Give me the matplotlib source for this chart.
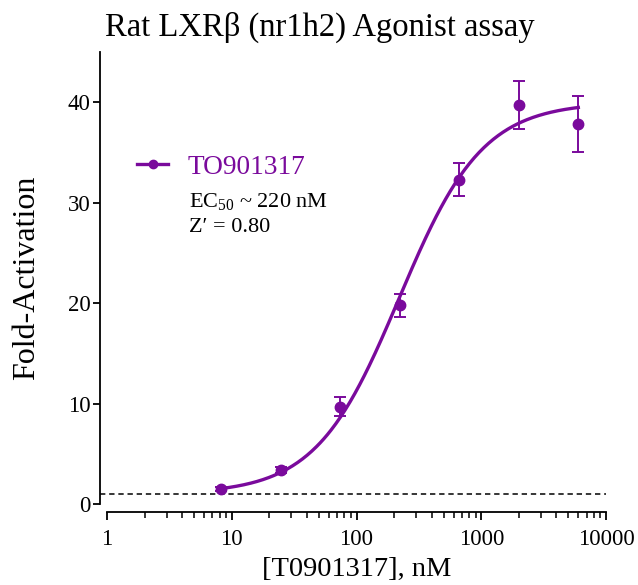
import matplotlib
matplotlib.use("Agg")
import matplotlib.pyplot as plt
import numpy as np
from matplotlib.ticker import LogLocator, NullFormatter, FixedLocator

plt.rcParams['font.family'] = ['Liberation Serif', 'DejaVu Serif']
plt.rcParams['mathtext.fontset'] = 'custom'
plt.rcParams['mathtext.rm'] = 'Liberation Serif'
plt.rcParams['mathtext.it'] = 'Liberation Serif:italic'

# data
conc_nM = [8.2, 24.7, 74, 222, 667, 2000, 6000]
fold = [1.5, 3.35, 9.7, 19.8, 32.3, 39.7, 37.8]
err = [0.2, 0.3, 0.95, 1.15, 1.6, 2.4, 2.8]

# 4PL fit parameters
fit_bottom = 1.0
fit_top = 40.0
fit_ec50 = 220.0
fit_hill = 1.3

purple = '#7a0a9c'

fig = plt.figure(figsize=(6.38, 5.85), dpi=100)
ax = fig.add_axes([107 / 638, 81 / 585, 499 / 638, 452 / 585])

xs = np.logspace(np.log10(conc_nM[0]), np.log10(conc_nM[-1]), 300)
ys = fit_bottom + (fit_top - fit_bottom) / (1 + (fit_ec50 / xs) ** fit_hill)
ax.plot(xs, ys, color=purple, lw=2.4, zorder=3)
ax.errorbar(conc_nM, fold, yerr=err, fmt='o', color=purple, ms=7.5,
            elinewidth=1.4, capsize=4.5, capthick=1.4, zorder=4)
ax.plot([], [], '-o', color=purple, lw=2.4, ms=6, label='TO901317')

# baseline (fold = 1), runs from the y spine to the right end
ax.axhline(1, xmin=-7 / 499, xmax=1, color='black', lw=1.1, ls=(0, (3.5, 2.5)),
           zorder=2, clip_on=False)

ax.set_xscale('log')
ax.set_xlim(1, 10000)
ax.set_ylim(0, 45)
ax.xaxis.set_major_locator(FixedLocator([1, 10, 100, 1000, 10000]))
ax.set_xticklabels(['1', '10', '100', '1000', '10000'])
ax.xaxis.set_minor_locator(LogLocator(base=10, subs=np.arange(2, 10)))
ax.xaxis.set_minor_formatter(NullFormatter())
ax.set_yticks([0, 10, 20, 30, 40])

for s in ['top', 'right']:
    ax.spines[s].set_visible(False)
ax.spines['left'].set_position(('outward', 5))
ax.spines['bottom'].set_position(('outward', 5.8))
ax.spines['left'].set_linewidth(1.3)
ax.spines['bottom'].set_linewidth(1.3)
ax.tick_params(axis='both', which='major', labelsize=16.5, width=1.3, direction='out')
ax.tick_params(axis='x', which='major', length=6, pad=6)
ax.tick_params(axis='x', which='minor', length=4, width=1.1)
ax.tick_params(axis='y', which='major', length=5, pad=2)

ax.set_xlabel('[T0901317], nM', fontsize=20.5, va='center')
ax.xaxis.set_label_coords(357 / 638, 1 - 569 / 585, transform=fig.transFigure)
ax.set_ylabel('Fold-Activation', fontsize=23, va='center')
ax.yaxis.set_label_coords(27 / 638, 1 - 278 / 585, transform=fig.transFigure)
fig.text(320 / 638, 1 - 27 / 585, 'Rat LXR\u03b2 (nr1h2) Agonist assay', fontsize=23.5,
         ha='center', va='center')

leg = ax.legend(loc='center left', bbox_to_anchor=(137 / 638, 1 - 167 / 585),
                bbox_transform=fig.transFigure, frameon=False, borderpad=0,
                borderaxespad=0, fontsize=19.7, handlelength=1.15, handletextpad=0.7)
for t in leg.get_texts():
    t.set_color(purple)

ax.text(189 / 638, 1 - 202 / 585, 'EC$_{50}$ ~ 220 nM', transform=fig.transFigure,
        fontsize=16, va='center', ha='left')
ax.text(189 / 638, 1 - 227 / 585, 'Z\u2032 = 0.80', transform=fig.transFigure,
        fontsize=16, va='center', ha='left')

fig.savefig('out.png', dpi=100)
